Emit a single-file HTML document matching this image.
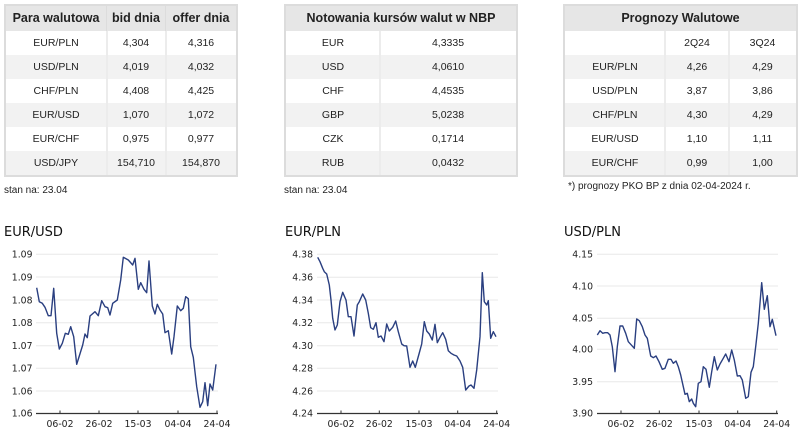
<!DOCTYPE html>
<html><head><meta charset="utf-8">
<style>
html,body{margin:0;padding:0;background:#fff;}
body{width:800px;height:440px;position:relative;overflow:hidden;font-family:"Liberation Sans",sans-serif;color:#222;}
.tb{position:absolute;background:#dcdcdc;}
.hd{position:absolute;background:#e6e6e6;font-weight:bold;font-size:12.5px;line-height:25px;text-align:center;color:#222;}
.row{position:absolute;height:24px;}
.w{background:#fff;}
.g{background:#f2f2f2;}
.c{position:absolute;top:0;height:24px;line-height:24px;text-align:center;font-size:10.5px;color:#222;}
.sep{position:absolute;width:2px;}
.note{position:absolute;font-size:10px;color:#222;}
svg{position:absolute;left:0;top:0;}
</style></head><body>

<!-- Table 1 -->
<div class="tb" style="left:4px;top:4px;width:234px;height:173px;"></div>
<div class="hd" style="left:6px;top:6px;width:100px;height:25px;">Para walutowa</div>
<div class="hd" style="left:107px;top:6px;width:58px;height:25px;">bid dnia</div>
<div class="hd" style="left:166px;top:6px;width:70px;height:25px;">offer dnia</div>
<div class="row w" style="left:6px;top:31px;width:230px;"><div class="c" style="left:0;width:100px;">EUR/PLN</div><div class="c" style="left:100px;width:60px;">4,304</div><div class="c" style="left:160px;width:70px;">4,316</div></div>
<div class="row g" style="left:6px;top:55px;width:230px;"><div class="c" style="left:0;width:100px;">USD/PLN</div><div class="c" style="left:100px;width:60px;">4,019</div><div class="c" style="left:160px;width:70px;">4,032</div></div>
<div class="row w" style="left:6px;top:79px;width:230px;"><div class="c" style="left:0;width:100px;">CHF/PLN</div><div class="c" style="left:100px;width:60px;">4,408</div><div class="c" style="left:160px;width:70px;">4,425</div></div>
<div class="row g" style="left:6px;top:103px;width:230px;"><div class="c" style="left:0;width:100px;">EUR/USD</div><div class="c" style="left:100px;width:60px;">1,070</div><div class="c" style="left:160px;width:70px;">1,072</div></div>
<div class="row w" style="left:6px;top:127px;width:230px;"><div class="c" style="left:0;width:100px;">EUR/CHF</div><div class="c" style="left:100px;width:60px;">0,975</div><div class="c" style="left:160px;width:70px;">0,977</div></div>
<div class="row g" style="left:6px;top:151px;width:230px;"><div class="c" style="left:0;width:100px;">USD/JPY</div><div class="c" style="left:100px;width:60px;">154,710</div><div class="c" style="left:160px;width:70px;">154,870</div></div>
<div class="sep" style="left:106px;top:31px;height:144px;background:#ececec;"></div>
<div class="sep" style="left:165px;top:31px;height:144px;background:#ececec;"></div>
<div class="note" style="left:4px;top:185px;">stan na: 23.04</div>

<!-- Table 2 -->
<div class="tb" style="left:284px;top:4px;width:234px;height:173px;"></div>
<div class="hd" style="left:286px;top:6px;width:230px;height:25px;">Notowania kursów walut w NBP</div>
<div class="row w" style="left:286px;top:31px;width:230px;"><div class="c" style="left:0;width:94px;">EUR</div><div class="c" style="left:94px;width:136px;">4,3335</div></div>
<div class="row g" style="left:286px;top:55px;width:230px;"><div class="c" style="left:0;width:94px;">USD</div><div class="c" style="left:94px;width:136px;">4,0610</div></div>
<div class="row w" style="left:286px;top:79px;width:230px;"><div class="c" style="left:0;width:94px;">CHF</div><div class="c" style="left:94px;width:136px;">4,4535</div></div>
<div class="row g" style="left:286px;top:103px;width:230px;"><div class="c" style="left:0;width:94px;">GBP</div><div class="c" style="left:94px;width:136px;">5,0238</div></div>
<div class="row w" style="left:286px;top:127px;width:230px;"><div class="c" style="left:0;width:94px;">CZK</div><div class="c" style="left:94px;width:136px;">0,1714</div></div>
<div class="row g" style="left:286px;top:151px;width:230px;"><div class="c" style="left:0;width:94px;">RUB</div><div class="c" style="left:94px;width:136px;">0,0432</div></div>
<div class="sep" style="left:379px;top:31px;height:144px;background:#ececec;"></div>
<div class="note" style="left:284px;top:185px;">stan na: 23.04</div>

<!-- Table 3 -->
<div class="tb" style="left:563px;top:4px;width:235px;height:173px;"></div>
<div class="hd" style="left:565px;top:6px;width:231px;height:25px;">Prognozy Walutowe</div>
<div class="row w" style="left:565px;top:31px;width:231px;"><div class="c" style="left:0;width:100px;"></div><div class="c" style="left:100px;width:64px;">2Q24</div><div class="c" style="left:164px;width:67px;">3Q24</div></div>
<div class="row g" style="left:565px;top:55px;width:231px;"><div class="c" style="left:0;width:100px;">EUR/PLN</div><div class="c" style="left:100px;width:64px;">4,26</div><div class="c" style="left:164px;width:67px;">4,29</div></div>
<div class="row w" style="left:565px;top:79px;width:231px;"><div class="c" style="left:0;width:100px;">USD/PLN</div><div class="c" style="left:100px;width:64px;">3,87</div><div class="c" style="left:164px;width:67px;">3,86</div></div>
<div class="row g" style="left:565px;top:103px;width:231px;"><div class="c" style="left:0;width:100px;">CHF/PLN</div><div class="c" style="left:100px;width:64px;">4,30</div><div class="c" style="left:164px;width:67px;">4,29</div></div>
<div class="row w" style="left:565px;top:127px;width:231px;"><div class="c" style="left:0;width:100px;">EUR/USD</div><div class="c" style="left:100px;width:64px;">1,10</div><div class="c" style="left:164px;width:67px;">1,11</div></div>
<div class="row g" style="left:565px;top:151px;width:231px;"><div class="c" style="left:0;width:100px;">EUR/CHF</div><div class="c" style="left:100px;width:64px;">0,99</div><div class="c" style="left:164px;width:67px;">1,00</div></div>
<div class="sep" style="left:664px;top:31px;height:144px;background:#ececec;"></div>
<div class="sep" style="left:728px;top:31px;height:144px;background:#ececec;"></div>
<div class="note" style="left:568px;top:181px;">*) prognozy PKO BP z dnia 02-04-2024 r.</div>

<svg width="800" height="440" viewBox="0 0 800 440" style="font-family:'DejaVu Sans',sans-serif;">
  <!-- Chart 1 -->
  <text x="4" y="236" font-size="13" fill="#111">EUR/USD</text>
  <g stroke="#e8e8e8" stroke-width="1">
    <line x1="36" y1="254.3" x2="218" y2="254.3"/><line x1="36" y1="277" x2="218" y2="277"/>
    <line x1="36" y1="300" x2="218" y2="300"/><line x1="36" y1="322.7" x2="218" y2="322.7"/>
    <line x1="36" y1="345.7" x2="218" y2="345.7"/><line x1="36" y1="368.3" x2="218" y2="368.3"/>
    <line x1="36" y1="391" x2="218" y2="391"/>
  </g>
  <g font-size="9.3" fill="#222" text-anchor="end">
    <text x="32.5" y="257.6">1.09</text><text x="32.5" y="280.3">1.09</text>
    <text x="32.5" y="303.3">1.08</text><text x="32.5" y="326">1.08</text>
    <text x="32.5" y="349">1.07</text><text x="32.5" y="371.6">1.07</text>
    <text x="32.5" y="394.3">1.06</text><text x="32.5" y="416.6">1.06</text>
  </g>
  <line x1="36" y1="413.5" x2="218" y2="413.5" stroke="#333" stroke-width="1.2"/>
  <g stroke="#333" stroke-width="1">
    <line x1="60" y1="410.5" x2="60" y2="413.5"/><line x1="99" y1="410.5" x2="99" y2="413.5"/>
    <line x1="138" y1="410.5" x2="138" y2="413.5"/><line x1="178" y1="410.5" x2="178" y2="413.5"/>
    <line x1="217" y1="410.5" x2="217" y2="413.5"/>
  </g>
  <g font-size="9.3" fill="#222" text-anchor="middle">
    <text x="60" y="427">06-02</text><text x="99" y="427">26-02</text><text x="138" y="427">15-03</text>
    <text x="178" y="427">04-04</text><text x="217" y="427">24-04</text>
  </g>
  <polyline fill="none" stroke="#2a3f80" stroke-width="1.4" stroke-linejoin="round" points="36.7,287.7 39.3,301.7 42.3,303.3 45,307.3 48.3,315.7 51,315.7 53.7,288.3 56.7,333.3 59.3,349 62.3,343.3 65.3,333.3 68.3,334.3 70.7,326.7 73.7,336.7 76.7,364.3 79.3,356 82.7,345 85,334 87.3,337.7 90,316 95,311.7 98.3,315.7 101.7,300.7 105,306.7 107.7,307.7 110,315 112.7,303.3 117.3,300 120.7,280 123.3,257.3 128.3,260 132.7,265 135,258.3 138.3,289.3 140.7,282.7 144,289.3 146.7,292.7 149,261 152.3,306 155,314 157.3,304.3 160,310 162.7,314 165,332.7 168.3,330.7 171.7,354 174,336.7 177.3,306 180.7,310.7 183.3,308.3 185.7,296.7 188.3,298.7 190.7,346.7 193.3,357.3 196.7,386.7 200,407.3 202.7,401.7 205,382.7 207.7,405.7 210,384 212.7,390 216,364.3"/>

  <!-- Chart 2 -->
  <text x="285" y="236" font-size="13" fill="#111">EUR/PLN</text>
  <g stroke="#e8e8e8" stroke-width="1">
    <line x1="317" y1="254.3" x2="498" y2="254.3"/><line x1="317" y1="277.3" x2="498" y2="277.3"/>
    <line x1="317" y1="300" x2="498" y2="300"/><line x1="317" y1="322.7" x2="498" y2="322.7"/>
    <line x1="317" y1="345.7" x2="498" y2="345.7"/><line x1="317" y1="368.3" x2="498" y2="368.3"/>
    <line x1="317" y1="391" x2="498" y2="391"/>
  </g>
  <g font-size="9.3" fill="#222" text-anchor="end">
    <text x="313" y="257.6">4.38</text><text x="313" y="280.6">4.36</text>
    <text x="313" y="303.3">4.34</text><text x="313" y="326">4.32</text>
    <text x="313" y="349">4.30</text><text x="313" y="371.6">4.28</text>
    <text x="313" y="394.3">4.26</text><text x="313" y="416.6">4.24</text>
  </g>
  <line x1="317" y1="413.5" x2="498" y2="413.5" stroke="#333" stroke-width="1.2"/>
  <g stroke="#333" stroke-width="1">
    <line x1="341" y1="410.5" x2="341" y2="413.5"/><line x1="379.3" y1="410.5" x2="379.3" y2="413.5"/>
    <line x1="419" y1="410.5" x2="419" y2="413.5"/><line x1="457.7" y1="410.5" x2="457.7" y2="413.5"/>
    <line x1="496.7" y1="410.5" x2="496.7" y2="413.5"/>
  </g>
  <g font-size="9.3" fill="#222" text-anchor="middle">
    <text x="341" y="427">06-02</text><text x="379.3" y="427">26-02</text><text x="419" y="427">15-03</text>
    <text x="457.7" y="427">04-04</text><text x="496.7" y="427">24-04</text>
  </g>
  <polyline fill="none" stroke="#2a3f80" stroke-width="1.4" stroke-linejoin="round" points="317.7,257.3 320,261.7 322.7,268.3 324.3,271.7 326.7,274 329.3,285 331,300 332.7,318.3 335,330 337.3,325 340,301.7 342.7,292.3 346,300 348.3,316.7 351,316.7 354,336 357.3,305 359.3,301.7 362.7,294 365.7,300 368.3,313.3 370.7,327.7 373.3,329.3 376,322.7 378.3,337.3 381,336 384,341.7 386.7,324 389.3,331 392.7,327.3 395.7,321 398.3,331.7 401.7,344 404,345.7 406.7,346 410,367.3 412.7,361 415.3,367.3 419,354 421.7,344 424.3,321.7 426.7,331 429.3,334 432.3,340 435,324.3 437.3,342.7 440,337.3 442.7,332.7 445.7,339.3 448.3,350.7 451,353.3 454,355 456.7,356 460,361 462.7,367.3 465.7,390 469,386 471,385 474,388.3 476.7,370 480,336.7 482.3,272.7 484.3,301.7 486.7,305 488.3,300.7 490.7,338.3 493.3,331.7 496,336.7"/>

  <!-- Chart 3 -->
  <text x="564" y="236" font-size="13" fill="#111">USD/PLN</text>
  <g stroke="#e8e8e8" stroke-width="1">
    <line x1="597" y1="254.3" x2="778" y2="254.3"/><line x1="597" y1="286" x2="778" y2="286"/>
    <line x1="597" y1="318.3" x2="778" y2="318.3"/><line x1="597" y1="349.3" x2="778" y2="349.3"/>
    <line x1="597" y1="381.7" x2="778" y2="381.7"/>
  </g>
  <g font-size="9.3" fill="#222" text-anchor="end">
    <text x="593" y="257.6">4.15</text><text x="593" y="289.3">4.10</text>
    <text x="593" y="321.6">4.05</text><text x="593" y="352.6">4.00</text>
    <text x="593" y="385">3.95</text><text x="593" y="416.6">3.90</text>
  </g>
  <line x1="597" y1="413.5" x2="778" y2="413.5" stroke="#333" stroke-width="1.2"/>
  <g stroke="#333" stroke-width="1">
    <line x1="621" y1="410.5" x2="621" y2="413.5"/><line x1="659.3" y1="410.5" x2="659.3" y2="413.5"/>
    <line x1="699" y1="410.5" x2="699" y2="413.5"/><line x1="737.7" y1="410.5" x2="737.7" y2="413.5"/>
    <line x1="776.7" y1="410.5" x2="776.7" y2="413.5"/>
  </g>
  <g font-size="9.3" fill="#222" text-anchor="middle">
    <text x="621" y="427">06-02</text><text x="659.3" y="427">26-02</text><text x="699" y="427">15-03</text>
    <text x="737.7" y="427">04-04</text><text x="776.7" y="427">24-04</text>
  </g>
  <polyline fill="none" stroke="#2a3f80" stroke-width="1.4" stroke-linejoin="round" points="597.3,335 600,330.7 602.7,333.3 605,332.7 607.7,332.7 610,335 612.3,346.7 615,371.7 617.3,346.7 620,326 622.7,326 625.7,333.3 628.3,341.7 630.7,344.3 634.3,348.3 636.7,319 639.3,320.7 642.3,326.7 645,335 647.3,338.3 650.7,356 653.3,357.7 656,356 659,361.7 662.3,369.3 665,368.3 668.3,359.3 671,359.3 673.3,363.3 676,361 678.3,366.7 680.7,375 683.3,386.7 685,394.3 687.3,393.3 689.3,401.7 691.7,399 693.3,403.3 695.7,406.7 698.3,383.3 701,381.7 703.3,366.7 706,369.3 709.3,387.3 711.7,371.7 714.3,356.7 717.3,370 720,364 722.7,359.3 725.7,354 729,361.7 731.7,350 734.3,360 737.3,376 740,375.7 742.3,380 745.7,398.3 748.3,396.7 751,372.3 753.3,366.7 756,344 758.3,323.3 761.7,282.7 764.3,309.3 767.3,295.7 770,326.7 772.3,319.3 776,335.7"/>
</svg>
</body></html>
